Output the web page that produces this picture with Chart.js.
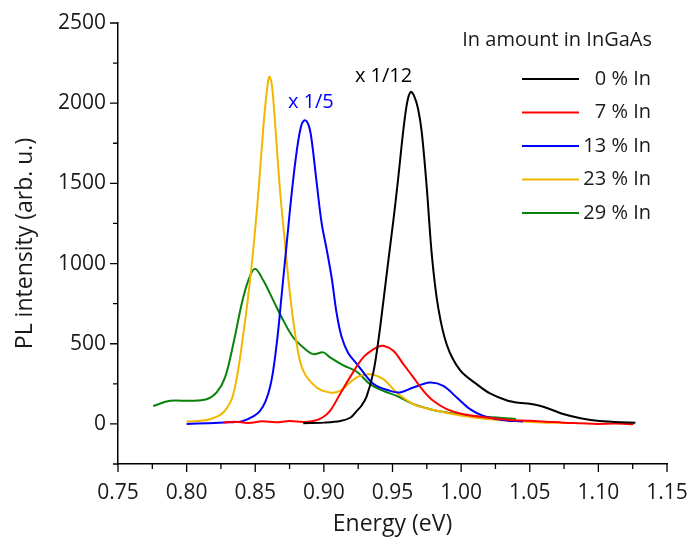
<!DOCTYPE html>
<html>
<head>
<meta charset="utf-8">
<script src="https://cdn.jsdelivr.net/npm/chart.js@4"></script>
<style>
  body { margin: 0; background: #fff; }
  #wrap { width: 687px; height: 539px; position: relative; }
</style>
</head>
<body>
<div id="wrap"><canvas id="plChart"></canvas></div>
<script>
// PL spectra, In amount in InGaAs
const seriesNames = ['0 % In', '7 % In', '13 % In', '23 % In', '29 % In'];
const seriesColors = ['#000000', '#ff0000', '#0000ff', '#f2b600', '#0a820a'];

// 0 % In (scaled x 1/12)
const black_E = [0.885, 0.900, 0.912, 0.9195, 0.924, 0.9275, 0.9311, 0.936, 0.9394, 0.943, 0.9467, 0.9505, 0.954, 0.958, 0.9608, 0.9632, 0.9655, 0.9685, 0.9713, 0.9749, 0.9788, 0.9834, 0.9897, 0.9992, 1.0113, 1.021, 1.033, 1.042, 1.050, 1.058, 1.066, 1.075, 1.087, 1.099, 1.112, 1.127];
const black_I = [4, 8, 18, 40, 81, 115, 170, 320, 500, 740, 1000, 1260, 1520, 1840, 2010, 2070, 2050, 1970, 1820, 1480, 1040, 720, 490, 335, 248, 190, 148, 132, 126, 112, 88, 60, 35, 19, 12, 8];

// 7 % In
const red_E = [0.8267, 0.835, 0.845, 0.855, 0.865, 0.875, 0.885, 0.893, 0.899, 0.9045, 0.9117, 0.919, 0.9287, 0.9385, 0.9433, 0.9506, 0.9579, 0.9652, 0.9725, 0.9797, 0.9895, 1.0016, 1.0186, 1.035, 1.050, 1.062, 1.0745, 1.087, 1.099, 1.112, 1.1255];
const red_I = [8, 14, 6, 16, 10, 18, 12, 20, 40, 81, 185, 290, 415, 477, 487, 456, 373, 290, 206, 144, 92, 60, 40, 25, 19, 14, 8, 4, 0, 2, -2];

// 13 % In (scaled x 1/5)
const blue_E = [0.800, 0.815, 0.8295, 0.8413, 0.8535, 0.8607, 0.8656, 0.8693, 0.8729, 0.8765, 0.8802, 0.8835, 0.8862, 0.889, 0.8911, 0.8948, 0.8984, 0.902, 0.9057, 0.9093, 0.913, 0.9178, 0.924, 0.936, 0.9482, 0.9555, 0.9652, 0.9773, 0.987, 0.9968, 1.0065, 1.0162, 1.03, 1.045];
const blue_I = [0, 4, 10, 19, 81, 227, 498, 810, 1123, 1435, 1700, 1860, 1894, 1860, 1770, 1500, 1250, 1090, 910, 690, 540, 440, 375, 250, 206, 196, 227, 258, 237, 165, 92, 50, 25, 15];

// 23 % In
const yellow_E = [0.800, 0.808, 0.817, 0.8267, 0.834, 0.8413, 0.8474, 0.8522, 0.8559, 0.8585, 0.8602, 0.862, 0.8644, 0.868, 0.8717, 0.8753, 0.8802, 0.885, 0.8948, 0.9045, 0.9117, 0.919, 0.9251, 0.9336, 0.9433, 0.953, 0.9652, 0.9773, 1.0016, 1.021, 1.038, 1.0623, 1.0757];
const yellow_I = [15, 18, 29, 71, 185, 560, 990, 1435, 1852, 2080, 2165, 2120, 1880, 1460, 1123, 810, 498, 331, 227, 196, 206, 258, 295, 310, 279, 196, 123, 92, 50, 29, 19, 8, 8];

// 29 % In
const green_E = [0.7757, 0.7879, 0.8025, 0.8146, 0.8219, 0.828, 0.834, 0.8401, 0.8449, 0.8498, 0.8559, 0.8632, 0.8705, 0.8777, 0.885, 0.8923, 0.8996, 0.9045, 0.9142, 0.924, 0.9336, 0.9433, 0.953, 0.9652, 0.9773, 0.9895, 1.0065, 1.0259, 1.04];
const green_I = [112, 144, 144, 154, 196, 290, 498, 748, 894, 967, 894, 769, 644, 539, 477, 435, 446, 415, 365, 325, 248, 206, 175, 123, 92, 71, 50, 40, 30];

const xTickVals = [0.75, 0.80, 0.85, 0.90, 0.95, 1.00, 1.05, 1.10, 1.15];
const yTickVals = [0, 500, 1000, 1500, 2000, 2500];

const legendTitle = 'In amount in InGaAs';
const scaleNotes = [
  { text: 'x 1/5', x: 0.8905, y: 2005, color: '#0000ff' },
  { text: 'x 1/12', x: 0.9435, y: 2170, color: '#000000' }
];

const FONT = "'Open Sans', 'DejaVu Sans', sans-serif";
const TEXT = '#1a1a1a';
const allE = [black_E, red_E, blue_E, yellow_E, green_E];
const allI = [black_I, red_I, blue_I, yellow_I, green_I];

function toPoints(xs, ys) {
  return xs.map((x, i) => ({ x: x, y: ys[i] }));
}

const datasets = seriesNames.map((name, i) => ({
  label: name,
  data: toPoints(allE[i], allI[i]),
  borderColor: seriesColors[i],
  borderWidth: 2,
  pointRadius: 0,
  fill: false,
  order: i,
  tension: 0.35
}));

// major + minor tick marks, pointing outward
const tickMarks = {
  id: 'tickMarks',
  afterDraw(chart) {
    const ctx = chart.ctx;
    const xs = chart.scales.x, ys = chart.scales.y;
    const area = chart.chartArea;
    ctx.save();
    ctx.strokeStyle = '#000';
    ctx.lineWidth = 1.3;
    ctx.beginPath();
    for (let i = 0; i < xTickVals.length; i++) {
      const px = xs.getPixelForValue(xTickVals[i]);
      ctx.moveTo(px, area.bottom); ctx.lineTo(px, area.bottom + 8);
      if (i < xTickVals.length - 1) {
        const pm = xs.getPixelForValue((xTickVals[i] + xTickVals[i + 1]) / 2);
        ctx.moveTo(pm, area.bottom); ctx.lineTo(pm, area.bottom + 5);
      }
    }
    const yMinor = [-250].concat(yTickVals.slice(0, -1).map((v, i) => (v + yTickVals[i + 1]) / 2));
    yTickVals.forEach(v => {
      const py = ys.getPixelForValue(v);
      ctx.moveTo(area.left, py); ctx.lineTo(area.left - 8, py);
    });
    yMinor.forEach(v => {
      const py = ys.getPixelForValue(v);
      ctx.moveTo(area.left, py); ctx.lineTo(area.left - 5, py);
    });
    ctx.stroke();
    ctx.restore();
  }
};

// legend block at the top right and scale notes over the peaks
const sideText = {
  id: 'sideText',
  afterDraw(chart) {
    const ctx = chart.ctx;
    ctx.save();
    ctx.font = '20px ' + FONT;
    ctx.fillStyle = TEXT;
    ctx.textBaseline = 'middle';
    ctx.textAlign = 'right';
    ctx.fillText(legendTitle, 652, 40);
    seriesNames.forEach((name, i) => {
      const y = 79 + i * 33.5;
      ctx.strokeStyle = seriesColors[i];
      ctx.lineWidth = 2;
      ctx.beginPath();
      ctx.moveTo(522, y); ctx.lineTo(579, y);
      ctx.stroke();
      ctx.fillStyle = TEXT;
      ctx.fillText(name, 651, y);
    });
    ctx.textAlign = 'center';
    scaleNotes.forEach(n => {
      ctx.fillStyle = n.color;
      ctx.fillText(n.text, chart.scales.x.getPixelForValue(n.x), chart.scales.y.getPixelForValue(n.y));
    });
    ctx.restore();
  }
};

new Chart(document.getElementById('plChart'), {
  type: 'line',
  data: { datasets: datasets },
  plugins: [tickMarks, sideText],
  options: {
    responsive: true,
    maintainAspectRatio: false,
    animation: false,
    layout: { padding: { top: 23, right: 20, left: 0, bottom: 0 } },
    plugins: { legend: { display: false }, tooltip: { enabled: false } },
    scales: {
      x: {
        type: 'linear',
        min: 0.75,
        max: 1.15,
        afterBuildTicks: s => { s.ticks = xTickVals.map(v => ({ value: v })); },
        afterFit: s => { s.height = 75; s.paddingLeft = 0; s.paddingRight = 0; },
        grid: { display: false, drawTicks: false },
        border: { display: true, color: '#000', width: 1.5 },
        ticks: {
          padding: 16,
          color: TEXT,
          font: { family: FONT, size: 21 },
          callback: v => v.toFixed(2)
        },
        title: {
          display: true,
          text: 'Energy (eV)',
          color: TEXT,
          font: { family: FONT, size: 23 },
          padding: { top: 0, bottom: 1 }
        }
      },
      y: {
        min: -250,
        max: 2500,
        afterBuildTicks: s => { s.ticks = yTickVals.map(v => ({ value: v })); },
        afterFit: s => { s.width = 118; s.paddingTop = 0; s.paddingBottom = 0; },
        grid: { display: false, drawTicks: false },
        border: { display: true, color: '#000', width: 1.5 },
        ticks: {
          padding: 12,
          color: TEXT,
          font: { family: FONT, size: 21 },
          callback: v => String(v)
        },
        title: {
          display: true,
          text: 'PL intensity (arb. u.)',
          color: TEXT,
          font: { family: FONT, size: 23 },
          padding: { top: 12, bottom: 0 }
        }
      }
    }
  }
});
</script>
</body>
</html>
